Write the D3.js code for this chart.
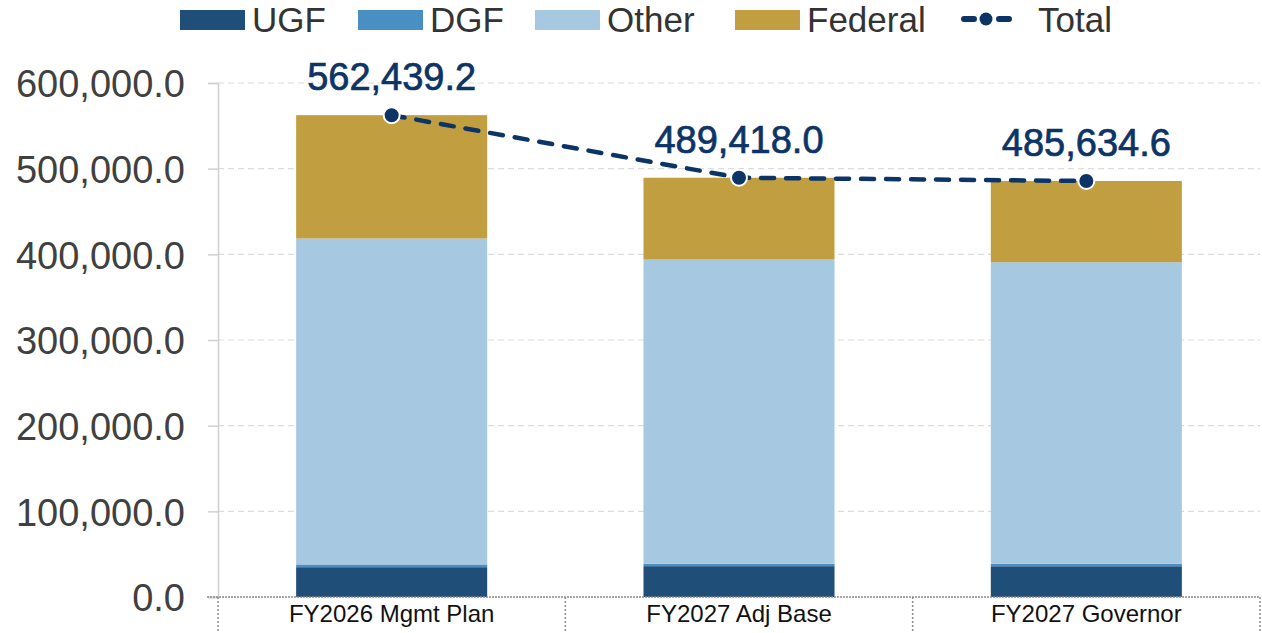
<!DOCTYPE html>
<html>
<head>
<meta charset="utf-8">
<script src="https://cdn.jsdelivr.net/npm/d3@7"></script>
<style>
  body { margin: 0; background: #fff; }
  #result { width: 1262px; height: 633px; }
</style>
</head>
<body>
<div id="result"></div>
<script>
// chart data
const categories = ['FY2026 Mgmt Plan', 'FY2027 Adj Base', 'FY2027 Governor'];
const seriesNames = ['UGF', 'DGF', 'Other', 'Federal'];
const ugf = [34800, 36000, 35900];
const dgf = [3200, 2800, 2800];
const other = [380500, 355100, 352100];
const federal = [143939.2, 95518.0, 94834.6];
const totals = [562439.2, 489418.0, 485634.6];
const yTicks = [0, 100000, 200000, 300000, 400000, 500000, 600000];

const colors = { UGF: '#1f4e79', DGF: '#4a8fc4', Other: '#a6c8e0', Federal: '#c19f40' };
const lineColor = '#0c3466';
const font = '"Liberation Sans", Arial, sans-serif';

const width = 1262;
const height = 633;
const margin = { top: 83, bottom: 36, left: 218, right: 2 };
const innerWidth = width - margin.left - margin.right;
const innerHeight = height - margin.top - margin.bottom;

const svg = d3.select('#result')
    .append('svg')
    .attr('width', width)
    .attr('height', height);

const g = svg.append('g')
    .attr('transform', `translate(${margin.left}, ${margin.top})`);

const xScale = d3.scaleBand()
    .domain(categories)
    .range([0, innerWidth])
    .paddingInner(0.45)
    .paddingOuter(0.225);

// band edges for the dotted category dividers
const bandEdge = d3.scalePoint()
    .domain(d3.range(categories.length + 1))
    .range([0, innerWidth]);

const yScale = d3.scaleLinear()
    .domain([0, 600000])
    .range([innerHeight, 0]);

// grid lines
g.append('g')
    .selectAll('line')
    .data(yTicks.slice(1))
    .enter()
    .append('line')
        .attr('x1', 0)
        .attr('x2', innerWidth)
        .attr('y1', d => yScale(d))
        .attr('y2', d => yScale(d))
        .attr('stroke', '#dcdcdc')
        .attr('stroke-width', 1.2)
        .attr('stroke-dasharray', '6,4');

// y axis
const yAxis = d3.axisLeft(yScale)
    .tickValues(yTicks)
    .tickSize(10)
    .tickPadding(23)
    .tickFormat(d3.format(',.1f'));

const yAxisG = g.append('g').call(yAxis);
yAxisG.select('.domain').attr('stroke', '#d0d0d0').attr('stroke-width', 1.5);
yAxisG.selectAll('.tick line').attr('stroke', '#d0d0d0').attr('stroke-width', 1.5);
yAxisG.selectAll('.tick text')
    .attr('fill', '#404040')
    .attr('dy', '0.36em')
    .style('font-family', font)
    .style('font-size', '38px');

// stacked bars
const rows = categories.map((c, i) => ({
    cat: c, UGF: ugf[i], DGF: dgf[i], Other: other[i], Federal: federal[i]
}));
const stacked = d3.stack().keys(seriesNames)(rows);

g.append('g')
    .selectAll('g')
    .data(stacked)
    .enter()
    .append('g')
        .attr('fill', d => colors[d.key])
    .selectAll('rect')
    .data(d => d)
    .enter()
    .append('rect')
        .attr('x', d => xScale(d.data.cat))
        .attr('width', xScale.bandwidth())
        .attr('y', d => yScale(d[1]))
        .attr('height', d => yScale(d[0]) - yScale(d[1]));

// x axis: dotted baseline and dividers
const xAxisG = g.append('g').attr('transform', `translate(0, ${innerHeight})`);
xAxisG.append('line')
    .attr('x1', -11)
    .attr('x2', innerWidth)
    .attr('y1', 0)
    .attr('y2', 0)
    .attr('stroke', '#8c8c8c')
    .attr('stroke-width', 1.5)
    .attr('stroke-dasharray', '2,1');

xAxisG.selectAll('.divider')
    .data(d3.range(categories.length + 1))
    .enter()
    .append('line')
        .attr('class', 'divider')
        .attr('x1', d => bandEdge(d))
        .attr('x2', d => bandEdge(d))
        .attr('y1', 0)
        .attr('y2', margin.bottom)
        .attr('stroke', '#8c8c8c')
        .attr('stroke-width', 1.5)
        .attr('stroke-dasharray', '2,2');

xAxisG.selectAll('.cat')
    .data(categories)
    .enter()
    .append('text')
        .attr('class', 'cat')
        .attr('x', d => xScale(d) + xScale.bandwidth() / 2)
        .attr('y', 25)
        .attr('text-anchor', 'middle')
        .attr('fill', '#111')
        .style('font-family', font)
        .style('font-size', '24px')
        .text(d => d);

// total line
const totalLine = d3.line()
    .x((d, i) => xScale(categories[i]) + xScale.bandwidth() / 2)
    .y(d => yScale(d));

g.append('path')
    .datum(totals)
    .attr('fill', 'none')
    .attr('stroke', lineColor)
    .attr('stroke-width', 4.5)
    .attr('stroke-linecap', 'round')
    .attr('stroke-dasharray', '13,12')
    .attr('d', totalLine);

g.append('g')
    .selectAll('circle')
    .data(totals)
    .enter()
    .append('circle')
        .attr('cx', (d, i) => xScale(categories[i]) + xScale.bandwidth() / 2)
        .attr('cy', d => yScale(d))
        .attr('r', 8)
        .attr('fill', lineColor)
        .attr('stroke', '#fff')
        .attr('stroke-width', 2);

g.append('g')
    .selectAll('text')
    .data(totals)
    .enter()
    .append('text')
        .attr('x', (d, i) => xScale(categories[i]) + xScale.bandwidth() / 2)
        .attr('y', d => yScale(d) - 25)
        .attr('text-anchor', 'middle')
        .attr('fill', lineColor)
        .attr('stroke', lineColor)
        .attr('stroke-width', 0.7)
        .style('font-family', font)
        .style('font-size', '38px')
        .text(d => d3.format(',.1f')(d));

// legend
const legend = svg.append('g');
const legendX = [180, 358, 535, 735];
seriesNames.forEach((name, i) => {
    legend.append('rect')
        .attr('x', legendX[i])
        .attr('y', 10)
        .attr('width', 65)
        .attr('height', 20)
        .attr('fill', colors[name]);
    legend.append('text')
        .attr('x', legendX[i] + 72)
        .attr('y', 32)
        .attr('fill', '#333')
        .style('font-family', font)
        .style('font-size', '35px')
        .text(name);
});
legend.append('line')
    .attr('x1', 964)
    .attr('x2', 1009)
    .attr('y1', 19)
    .attr('y2', 19)
    .attr('stroke', lineColor)
    .attr('stroke-width', 6)
    .attr('stroke-linecap', 'round')
    .attr('stroke-dasharray', '10,25');
legend.append('circle')
    .attr('cx', 986)
    .attr('cy', 19)
    .attr('r', 6.5)
    .attr('fill', lineColor);
legend.append('text')
    .attr('x', 1038)
    .attr('y', 32)
    .attr('fill', '#333')
    .style('font-family', font)
    .style('font-size', '35px')
    .text('Total');
</script>
</body>
</html>
